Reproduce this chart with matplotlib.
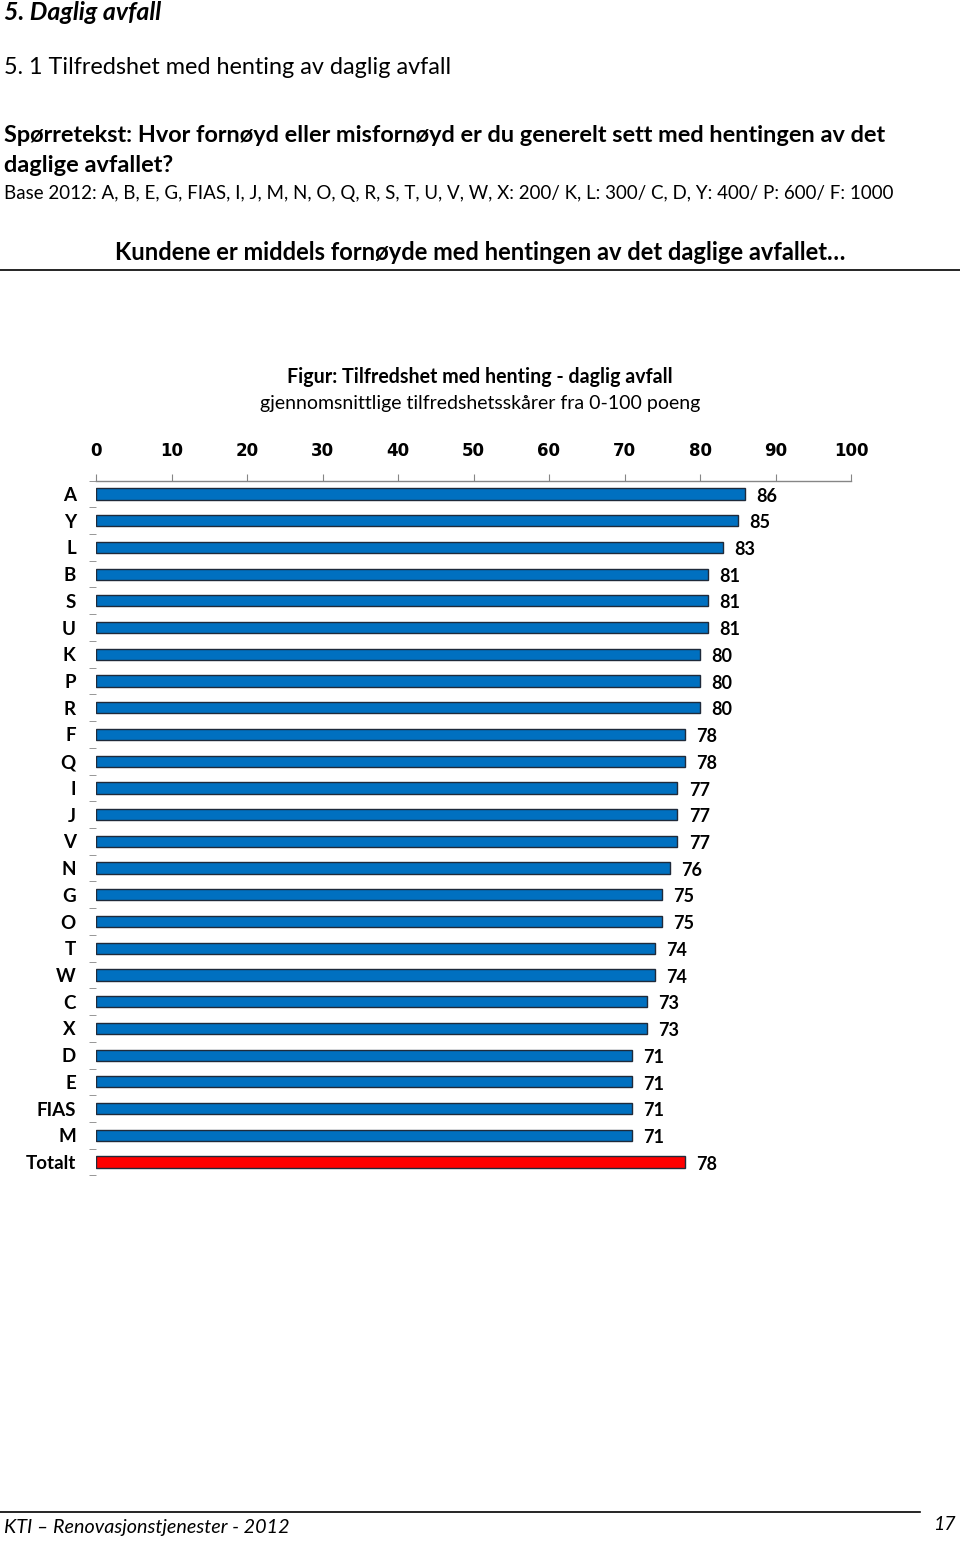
import numpy as np
import matplotlib.pyplot as plt
from matplotlib.ticker import FixedLocator

# data
categories = ['A', 'Y', 'L', 'B', 'S', 'U', 'K', 'P', 'R', 'F', 'Q', 'I', 'J', 'V',
              'N', 'G', 'O', 'T', 'W', 'C', 'X', 'D', 'E', 'FIAS', 'M', 'Totalt']
scores = [86, 85, 83, 81, 81, 81, 80, 80, 80, 78, 78, 77, 77, 77,
          76, 75, 75, 74, 74, 73, 73, 71, 71, 71, 71, 78]
x_ticks = [0, 10, 20, 30, 40, 50, 60, 70, 80, 90, 100]

W, H = 960, 1541
FONT = 'Lato'

fig = plt.figure(figsize=(W / 100, H / 100), dpi=100)


def fy(py):
    return 1 - py / H


def fx(px):
    return px / W


# page text
fig.text(fx(4), fy(12), '5. Daglig avfall', fontsize=17.9, fontweight='bold',
         fontstyle='italic', family=FONT, va='center', ha='left')
fig.text(fx(4), fy(67), '5. 1 Tilfredshet med henting av daglig avfall', fontsize=16.8,
         family=FONT, va='center', ha='left')
fig.text(fx(4), fy(135), 'Spørretekst: Hvor fornøyd eller misfornøyd er du generelt sett med hentingen av det',
         fontsize=16.9, fontweight='bold', family=FONT, va='center', ha='left')
fig.text(fx(4), fy(166), 'daglige avfallet?', fontsize=16.9, fontweight='bold',
         family=FONT, va='center', ha='left')
fig.text(fx(4), fy(194),
         'Base 2012: A, B, E, G, FIAS, I, J, M, N, O, Q, R, S, T, U, V, W, X: 200/ K, L: 300/ C, D, Y: 400/ P: 600/ F: 1000',
         fontsize=13.5, family=FONT, va='center', ha='left')
fig.text(fx(480), fy(253), 'Kundene er middels fornøyde med hentingen av det daglige avfallet…',
         fontsize=17.1, fontweight='bold', family=FONT, va='center', ha='center')
fig.add_artist(plt.Line2D([0, 1], [fy(270), fy(270)], color='black', lw=1.2))

fig.text(fx(480), fy(377), 'Figur: Tilfredshet med henting - daglig avfall', fontsize=14.1,
         fontweight='bold', family=FONT, va='center', ha='center')
fig.text(fx(480), fy(403), 'gjennomsnittlige tilfredshetsskårer fra 0-100 poeng', fontsize=14,
         family=FONT, va='center', ha='center')

# footer
fig.add_artist(plt.Line2D([0, fx(920)], [fy(1512), fy(1512)], color='black', lw=1.2))
fig.text(fx(4), fy(1528), 'KTI – Renovasjonstjenester - 2012', fontsize=14.25, fontstyle='italic',
         family=FONT, va='center', ha='left')
fig.text(fx(956), fy(1524), '17', fontsize=14, fontstyle='italic',
         family=FONT, va='center', ha='right')

# chart
ax = fig.add_axes([fx(96), fy(1175.4), fx(851) - fx(96), (1175.4 - 480.6) / H])
y = np.arange(len(categories))
colors = ['#0070C0'] * (len(categories) - 1) + ['#FF0000']
ax.barh(y, scores, height=0.42, color=colors, edgecolor='#1F2A3A', linewidth=1.0)

for yi, v in zip(y, scores):
    ax.text(v + 1.5, yi + 0.08, str(v), fontsize=13, fontweight='bold', family=FONT,
            va='center', ha='left')

ax.set_xlim(0, 100)
ax.set_ylim(len(categories) - 0.5, -0.5)
ax.xaxis.tick_top()
ax.set_xticks(x_ticks)
ax.set_xticklabels([str(t) for t in x_ticks], fontsize=12, fontweight='bold', family='DejaVu Sans')
ax.tick_params(axis='x', length=5, color='#868686', pad=10)

ax.set_yticks(y)
ax.set_yticklabels(categories, fontsize=13.5, fontweight='bold', family=FONT)
ax.yaxis.set_minor_locator(FixedLocator(np.arange(-0.5, len(categories), 1.0)))
ax.tick_params(axis='y', which='major', length=0, pad=14.5)
ax.tick_params(axis='y', which='minor', length=5, color='#868686')

for s in ['left', 'right', 'bottom']:
    ax.spines[s].set_visible(False)
ax.spines['top'].set_color('#868686')
ax.spines['top'].set_linewidth(1.0)

fig.savefig('out.png', dpi=100)
